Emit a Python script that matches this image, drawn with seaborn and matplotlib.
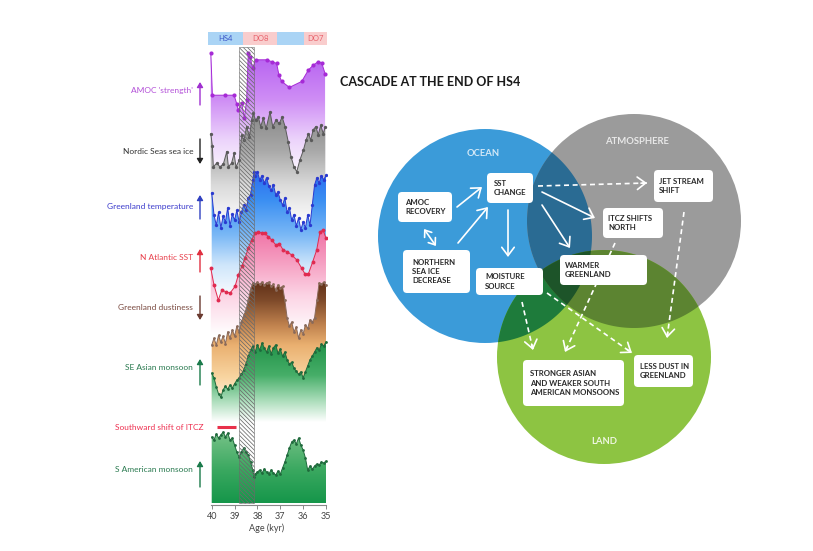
import numpy as np
import pandas as pd
import matplotlib
matplotlib.use("Agg")
import matplotlib.pyplot as plt
import seaborn as sns
from matplotlib.patches import Circle, FancyBboxPatch, Rectangle, Polygon
from matplotlib.colors import to_rgb

# ---------------------------------------------------------------- data
ages_step = [40.0, 39.9, 39.8, 39.7, 39.6, 39.5, 39.4, 39.3, 39.2, 39.1,
             39.0, 38.9, 38.8, 38.7, 38.6, 38.5, 38.4, 38.3, 38.2, 38.1,
             38.0, 37.9, 37.8, 37.7, 37.6, 37.5, 37.4, 37.3, 37.2, 37.1,
             37.0, 36.9, 36.8, 36.7, 36.6, 36.5, 36.4, 36.3, 36.2, 36.1,
             36.0, 35.9, 35.8, 35.7, 35.6, 35.5, 35.4, 35.3, 35.2, 35.1, 35.0]
ages_fine = [40.0, 39.9, 39.8, 39.7, 39.6, 39.5, 39.4, 39.3, 39.2, 39.1,
             39.0, 38.9, 38.8, 38.7, 38.6, 38.5, 38.4, 38.3, 38.2, 38.15, 38.1,
             38.0, 37.9, 37.8, 37.7, 37.6, 37.5, 37.4, 37.3, 37.2, 37.1,
             37.0, 36.9, 36.8, 36.7, 36.6, 36.5, 36.4, 36.3, 36.2, 36.1,
             36.0, 35.9, 35.8, 35.7, 35.6, 35.5, 35.4, 35.3, 35.2, 35.1, 35.0]

amoc_age = [40.04, 39.97, 39.42, 39.02, 38.90, 38.84, 38.69, 38.57, 38.47, 38.40,
            38.32, 38.21, 38.08, 37.59, 37.38, 37.16, 37.06, 36.94, 36.60, 36.06,
            35.77, 35.56, 35.34, 35.19, 35.04]
amoc_val = [9.9, 2.8, 2.8, 2.8, 1.3, 0.3, 1.45, -1.0, 2.0, 9.8,
            9.2, 7.3, 8.7, 8.7, 8.4, 8.1, 6.2, 5.1, 4.1, 5.1,
            7.0, 7.8, 8.4, 8.2, 6.4]

seaice_age = [40.04, 39.97, 39.93, 39.78, 39.64, 39.49, 39.34, 39.27, 39.13, 39.02,
              38.94, 38.79, 38.69, 38.59, 38.47, 38.35, 38.25, 38.18, 38.08, 37.96,
              37.86, 37.74, 37.62, 37.45, 37.33, 37.19, 37.04, 36.92, 36.79, 36.65,
              36.53, 36.40, 36.28, 36.14, 35.99, 35.87, 35.77, 35.67, 35.56, 35.44,
              35.34, 35.23, 35.12, 35.03]
seaice_val = [6.0, 4.0, 0.8, 1.4, 0.8, 1.25, 3.2, 0.8, 1.4, 2.9,
              0.8, 1.9, 5.8, 5.0, 7.1, 5.5, 8.1, 9.2, 8.1, 8.6,
              7.1, 8.4, 6.8, 9.4, 7.1, 8.1, 7.6, 8.6, 7.1, 4.7,
              2.4, 0.8, 0.05, 1.9, 3.4, 5.0, 6.0, 5.0, 6.6, 7.1,
              5.8, 7.3, 6.0, 7.1]

temp_age = ages_fine
temp_val = [6.5, 3.1, 1.5, 3.5, 1.1, 2.9, 2.0, 4.2, 1.4, 3.2,
            2.3, 3.8, 2.0, 3.5, 4.6, 3.8, 5.7, 6.2, 8.5, 9.7, 9.1,
            9.7, 8.5, 9.1, 8.0, 8.8, 7.5, 6.9, 7.7, 6.2, 6.6,
            5.4, 4.6, 5.7, 3.5, 4.2, 2.3, 3.1, 1.4, 2.6, 0.8,
            2.0, 1.1, 3.1, 1.5, 4.6, 7.7, 8.8, 8.0, 9.1, 8.5, 9.2]

sst_age = [40.04, 39.90, 39.71, 39.56, 39.39, 39.20, 38.98, 38.84, 38.69, 38.54,
           38.40, 38.25, 38.11, 37.96, 37.81, 37.67, 37.52, 37.38, 37.19, 37.04,
           36.87, 36.69, 36.50, 36.28, 36.06, 35.92, 35.77, 35.58, 35.41, 35.26,
           35.12, 35.0]
sst_val = [4.55, 2.3, 0.27, 1.6, 1.4, 1.2, 2.1, 3.6, 4.8, 5.9,
           7.3, 8.4, 9.3, 9.5, 9.3, 9.3, 8.8, 8.4, 7.7, 7.9,
           7.0, 6.8, 6.35, 5.7, 4.55, 3.8, 3.8, 5.45, 7.0, 9.5,
           9.7, 8.6]

dust_age = ages_step
dust_val = [0.7, 1.7, 0.7, 2.1, 1.1, 2.0, 0.9, 2.6, 1.7, 2.9,
            2.0, 3.4, 2.6, 4.0, 4.9, 5.7, 7.1, 8.6, 9.6, 9.4,
            9.7, 9.4, 9.7, 9.3, 9.6, 9.7, 9.1, 9.4, 8.6, 9.3,
            8.9, 9.1, 7.1, 4.6, 3.4, 4.0, 2.6, 3.3, 1.7, 2.9,
            2.3, 3.6, 3.1, 4.3, 4.0, 4.6, 7.1, 9.6, 9.4, 9.7, 9.3]

asia_age = ages_step
asia_val = [4.5, 3.7, 2.2, 1.0, 0.5, 1.7, 2.3, 1.8, 2.5, 2.0,
            2.7, 3.3, 3.7, 4.3, 5.0, 6.0, 7.3, 8.3, 9.0, 8.0,
            9.2, 8.3, 9.5, 8.7, 8.0, 9.0, 7.7, 8.7, 9.2, 7.8,
            8.5, 7.3, 8.0, 6.7, 6.0, 6.3, 5.3, 4.8, 4.3, 4.7,
            3.7, 4.7, 5.7, 6.7, 7.3, 8.0, 8.7, 8.3, 9.3, 9.0, 9.7]

samer_age = ages_fine
samer_val = [8.6, 8.0, 9.2, 8.4, 9.0, 9.6, 8.6, 9.4, 8.0, 8.4,
             7.0, 5.6, 4.6, 5.6, 6.4, 5.6, 5.0, 3.6, 2.0, 0.6, 1.2,
             1.6, 2.0, 1.4, 2.2, 1.6, 1.2, 2.0, 1.4, 1.0, 1.8,
             1.2, 2.4, 3.6, 5.0, 6.4, 7.6, 8.0, 7.2, 8.4, 7.0,
             6.0, 4.4, 2.0, 2.8, 2.2, 2.8, 3.2, 3.0, 3.6, 3.4, 3.8]

itcz_shift_age = [39.75, 38.92]
hatch_age = [38.80, 38.15]
header_start = [40.16, 38.63, 37.14, 35.96]
header_end = [38.63, 37.14, 35.96, 34.96]
header_label = ["HS4", "DO8", "", "DO7"]
age_ticks = [40, 39, 38, 37, 36, 35]

box_text = ["AMOC\nRECOVERY", "SST\nCHANGE", "NORTHERN\nSEA ICE\nDECREASE",
            "MOISTURE\nSOURCE", "WARMER\nGREENLAND", "ITCZ SHIFTS\nNORTH",
            "JET STREAM\nSHIFT", "STRONGER ASIAN\nAND WEAKER SOUTH\nAMERICAN MONSOONS",
            "LESS DUST IN\nGREENLAND"]
circle_names = ["OCEAN", "ATMOSPHERE", "LAND"]

# ---------------------------------------------------------------- style
sns.set_theme(style="white")
plt.rcParams["font.family"] = ["Lato", "DejaVu Sans"]
plt.rcParams["hatch.linewidth"] = 0.55

W, H = 813, 551
fig = plt.figure(figsize=(W / 100, H / 100), dpi=100)
fig.patch.set_facecolor("white")

ov = fig.add_axes([0, 0, 1, 1])
ov.set_xlim(0, W)
ov.set_ylim(H, 0)
ov.axis("off")

X0, X1, Y0, Y1 = 207, 327, 32, 505
ax = fig.add_axes([X0 / W, 1 - Y1 / H, (X1 - X0) / W, (Y1 - Y0) / H])
ax.patch.set_alpha(0)
XLIM = (40.206, 34.956)

# ---------------------------------------------------------------- left panel
series = [
    dict(label="AMOC 'strength'", age=amoc_age, val=amoc_val, y0=112, k=6.0, base=180,
         line="#a62ad6", grad=[(50, "#b45cf0"), (100, "#cf8ef5"), (140, "#ecd4fb"), (180, "#ffffff")],
         lab_y=91, lab_c="#b350d8", arr=(82, 105, "up"), arr_c="#a030d0", ms=3.0),
    dict(label="Nordic Seas sea ice", age=seaice_age, val=seaice_val, y0=172, k=6.4, base=225,
         line="#5a5a5a", grad=[(108, "#858585"), (150, "#a8a8a8"), (185, "#dadada"), (225, "#ffffff")],
         lab_y=152, lab_c="#333333", arr=(139, 164, "down"), arr_c="#222222", ms=2.4),
    dict(label="Greenland temperature", age=temp_age, val=temp_val, y0=235, k=6.5, base=300,
         line="#2a3ad0", grad=[(170, "#2a6af0"), (200, "#3b8ff2"), (235, "#7ab8f6"), (265, "#cfe6fb"), (300, "#ffffff")],
         lab_y=206, lab_c="#3c3ccc", arr=(195, 219, "up"), arr_c="#3040c0", ms=2.4),
    dict(label="N Atlantic SST", age=sst_age, val=sst_val, y0=302, k=7.4, base=335,
         line="#e02a50", grad=[(228, "#ef6fa3"), (260, "#f59cc0"), (295, "#fcd3e4"), (335, "#ffffff")],
         lab_y=258, lab_c="#e8404c", arr=(249, 272, "up"), arr_c="#e03040", ms=2.8),
    dict(label="Greenland dustiness", age=dust_age, val=dust_val, y0=350, k=7.0, base=415,
         line="#8a6a5a", grad=[(280, "#5e2e16"), (300, "#7e4a2a"), (325, "#c0824e"), (345, "#eab070"),
                               (378, "#f9d6a2"), (415, "#ffffff")],
         lab_y=307, lab_c="#7a4a40", arr=(296, 320, "down"), arr_c="#6a3a30", ms=2.0),
    dict(label="SE Asian monsoon", age=asia_age, val=asia_val, y0=400, k=6.0, base=422,
         line="#1f6a3c", grad=[(340, "#1e9046"), (375, "#46ae68"), (400, "#a8dcb8"), (422, "#ffffff")],
         lab_y=368, lab_c="#2a7a50", arr=(359, 385, "up"), arr_c="#1a7a4a", ms=2.0),
    dict(label="S American monsoon", age=samer_age, val=samer_val, y0=480, k=5.0, base=503,
         line="#1f6a3c", grad=[(430, "#7ac48a"), (470, "#3aa860"), (503, "#15964a")],
         lab_y=470, lab_c="#2a7a50", arr=(461, 487, "up"), arr_c="#1a7a4a", ms=2.0),
]

for i, s in enumerate(series):
    yv = s["y0"] - np.asarray(s["val"], dtype=float) * s["k"]
    df = pd.DataFrame({"age": s["age"], "y": yv})
    z = 2 + 2 * i
    poly = ax.fill_between(df["age"], df["y"], s["base"], facecolor="none",
                           edgecolor="none", zorder=z)
    stops_y = [g[0] for g in s["grad"]]
    cols = np.array([to_rgb(g[1]) for g in s["grad"]])
    ys = np.linspace(stops_y[0], stops_y[-1], 256)
    img = np.stack([np.interp(ys, stops_y, cols[:, c]) for c in range(3)], axis=-1)[:, None, :]
    im = ax.imshow(img, extent=(XLIM[0], XLIM[1], ys[-1], ys[0]), aspect="auto",
                   origin="upper", interpolation="bilinear", zorder=z)
    im.set_clip_path(poly.get_paths()[0], transform=ax.transData)
    sns.lineplot(data=df, x="age", y="y", ax=ax, color=s["line"], lw=0.7,
                 marker="o", markersize=s["ms"], markeredgewidth=0, sort=False,
                 estimator=None, zorder=z + 1)
    ov.text(193, s["lab_y"], s["label"], ha="right", va="center", fontsize=6,
            color=s["lab_c"])
    ya, yb, d = s["arr"]
    head, tail = ((200, ya), (200, yb)) if d == "up" else ((200, yb), (200, ya))
    ov.annotate("", xy=head, xytext=tail,
                arrowprops=dict(arrowstyle="-|>,head_length=0.5,head_width=0.3",
                                color=s["arr_c"], lw=1.0, mutation_scale=6,
                                shrinkA=0, shrinkB=0))

# ITCZ southward shift
ax.plot(itcz_shift_age, [427, 427], color="#e8304a", lw=2.2,
        solid_capstyle="butt", zorder=20)
ov.text(203, 427, "Southward shift of ITCZ", ha="right", va="center",
        fontsize=6, color="#ee3050")

# hatched transition
ax.add_patch(Rectangle((hatch_age[1], 47), hatch_age[0] - hatch_age[1], 456,
                       facecolor="none", edgecolor="#6a6a6a", lw=0.4,
                       hatch="\\" * 8, zorder=30))

# header bar
hdr_fc = ["#aad4f5", "#f9cdcd", "#aad4f5", "#f9cdcd"]
hdr_tc = ["#3a55c8", "#e8606a", "#3a55c8", "#e8606a"]
for st, en, lab, fc, tc in zip(header_start, header_end, header_label, hdr_fc, hdr_tc):
    ax.add_patch(Rectangle((en, 32), st - en, 13, facecolor=fc, edgecolor="none",
                           clip_on=False, zorder=25))
    ax.text((st + en) / 2, 38.5, lab, ha="center", va="center", fontsize=5.5,
            color=tc, zorder=26)

ax.set_xlim(*XLIM)
ax.set_ylim(Y1, Y0)
ax.set_xticks(age_ticks)
ax.set_xticklabels([str(t) for t in age_ticks], fontsize=6.5, color="#444444")
ax.set_yticks([])
ax.set_ylabel("")
for sp in ["top", "left", "right"]:
    ax.spines[sp].set_visible(False)
ax.spines["bottom"].set_bounds(40.04, 35.0)
ax.spines["bottom"].set_color("#888888")
ax.spines["bottom"].set_linewidth(0.8)
ax.tick_params(axis="x", bottom=True, length=3, width=0.7, color="#888888", pad=2)
ax.set_xlabel("Age (kyr)", fontsize=6.5, color="#444444", labelpad=2)

# ---------------------------------------------------------------- diagram
ov.text(340, 82.5, "CASCADE AT THE END OF HS4", ha="left", va="center",
        fontsize=9, fontweight="bold", color="#1a1a1a")

centers = [(485, 236), (634, 221), (604, 357)]
R = 107
c_fill = ["#3b9bd9", "#9b9b9b", "#8dc442"]


def circle_pts(c, r, n=360):
    t = np.linspace(0, 2 * np.pi, n, endpoint=False)
    return np.column_stack([c[0] + r * np.cos(t), c[1] + r * np.sin(t)])


def clip_convex(subj, clipper):
    out = [tuple(p) for p in subj]
    n = len(clipper)
    for i in range(n):
        a = clipper[i]
        b = clipper[(i + 1) % n]
        inp, out = out, []
        if not inp:
            break

        def inside(p):
            return (b[0] - a[0]) * (p[1] - a[1]) - (b[1] - a[1]) * (p[0] - a[0]) >= 0

        def inter(p, q):
            x1, y1 = p
            x2, y2 = q
            x3, y3 = a
            x4, y4 = b
            den = (x1 - x2) * (y3 - y4) - (y1 - y2) * (x3 - x4)
            t = ((x1 - x3) * (y3 - y4) - (y1 - y3) * (x3 - x4)) / den
            return (x1 + t * (x2 - x1), y1 + t * (y2 - y1))

        s = inp[-1]
        for e in inp:
            if inside(e):
                if not inside(s):
                    out.append(inter(s, e))
                out.append(e)
            elif inside(s):
                out.append(inter(s, e))
            s = e
    return np.array(out)


pts = [circle_pts(c, R) for c in centers]
for c, fc in zip(centers, c_fill):
    ov.add_patch(Circle(c, R, facecolor=fc, edgecolor="none", zorder=2))
ab = clip_convex(pts[0], pts[1])
ac = clip_convex(pts[0], pts[2])
bc = clip_convex(pts[1], pts[2])
abc = clip_convex(ab, pts[2])
for poly_pts, fc in [(ab, "#2a6b93"), (ac, "#1e7b3b"), (bc, "#5c8431"), (abc, "#1d5429")]:
    ov.add_patch(Polygon(poly_pts, closed=True, facecolor=fc, edgecolor="none", zorder=3))

ov.text(483, 153, circle_names[0], ha="center", va="center", fontsize=6.8,
        fontweight="bold", color="#d4e9f7", zorder=4)
ov.text(637, 141, circle_names[1], ha="center", va="center", fontsize=6.8,
        fontweight="bold", color="#e8e8e8", zorder=4)
ov.text(604, 442, circle_names[2], ha="center", va="center", fontsize=6.8,
        fontweight="bold", color="#eef6e0", zorder=4)

box_xy = [(398, 192, 452, 222), (487, 173, 533, 203), (403, 250, 470, 293),
          (476, 268, 543, 295), (560, 255, 647, 285), (603, 208, 663, 238),
          (654, 170, 713, 202), (523, 360, 624, 406), (634, 355, 693, 387)]
box_pad = [7, 7, 9, 9, 5, 5, 5, 7, 6]
for txt, (x0, y0, x1, y1), p in zip(box_text, box_xy, box_pad):
    ov.add_patch(FancyBboxPatch((x0, y0), x1 - x0, y1 - y0,
                                boxstyle="round,pad=0,rounding_size=4",
                                facecolor="white", edgecolor="none", zorder=6))
    ov.text(x0 + p, (y0 + y1) / 2, txt, ha="left", va="center", fontsize=5.6,
            fontweight="bold", color="#2a2a2a", linespacing=1.4, zorder=7)

solid_arrows = [((424, 229), (436, 246), "<->", 7), ((457, 207), (482, 187), "->", 10),
                ((458, 243), (488, 207), "->", 10), ((508, 210), (508, 257), "->", 10),
                ((542, 192), (595, 218), "->", 10), ((542, 205), (570, 248), "->", 10)]
head = "head_length=0.6,head_width=0.45"
for st, en, sty, ms in solid_arrows:
    ov.annotate("", xy=en, xytext=st,
                arrowprops=dict(arrowstyle=sty + "," + head, color="white", lw=1.2,
                                mutation_scale=ms, shrinkA=0, shrinkB=0), zorder=5)

dashed_arrows = [((538, 186), (647, 183)), ((615, 243), (565, 352)),
                 ((684, 212), (667, 338)), ((522, 302), (533, 350)),
                 ((547, 293), (632, 353))]
for st, en in dashed_arrows:
    st = np.array(st, float)
    en = np.array(en, float)
    ov.plot([st[0], en[0]], [st[1], en[1]], color="white", lw=1.2,
            dashes=(3, 2.2), zorder=5)
    u = (en - st) / np.hypot(*(en - st))
    ov.annotate("", xy=tuple(en), xytext=tuple(en - 6 * u),
                arrowprops=dict(arrowstyle="->," + head, color="white", lw=1.2,
                                mutation_scale=10, shrinkA=0, shrinkB=0), zorder=5)

fig.savefig("out.png", dpi=100, facecolor="white")
